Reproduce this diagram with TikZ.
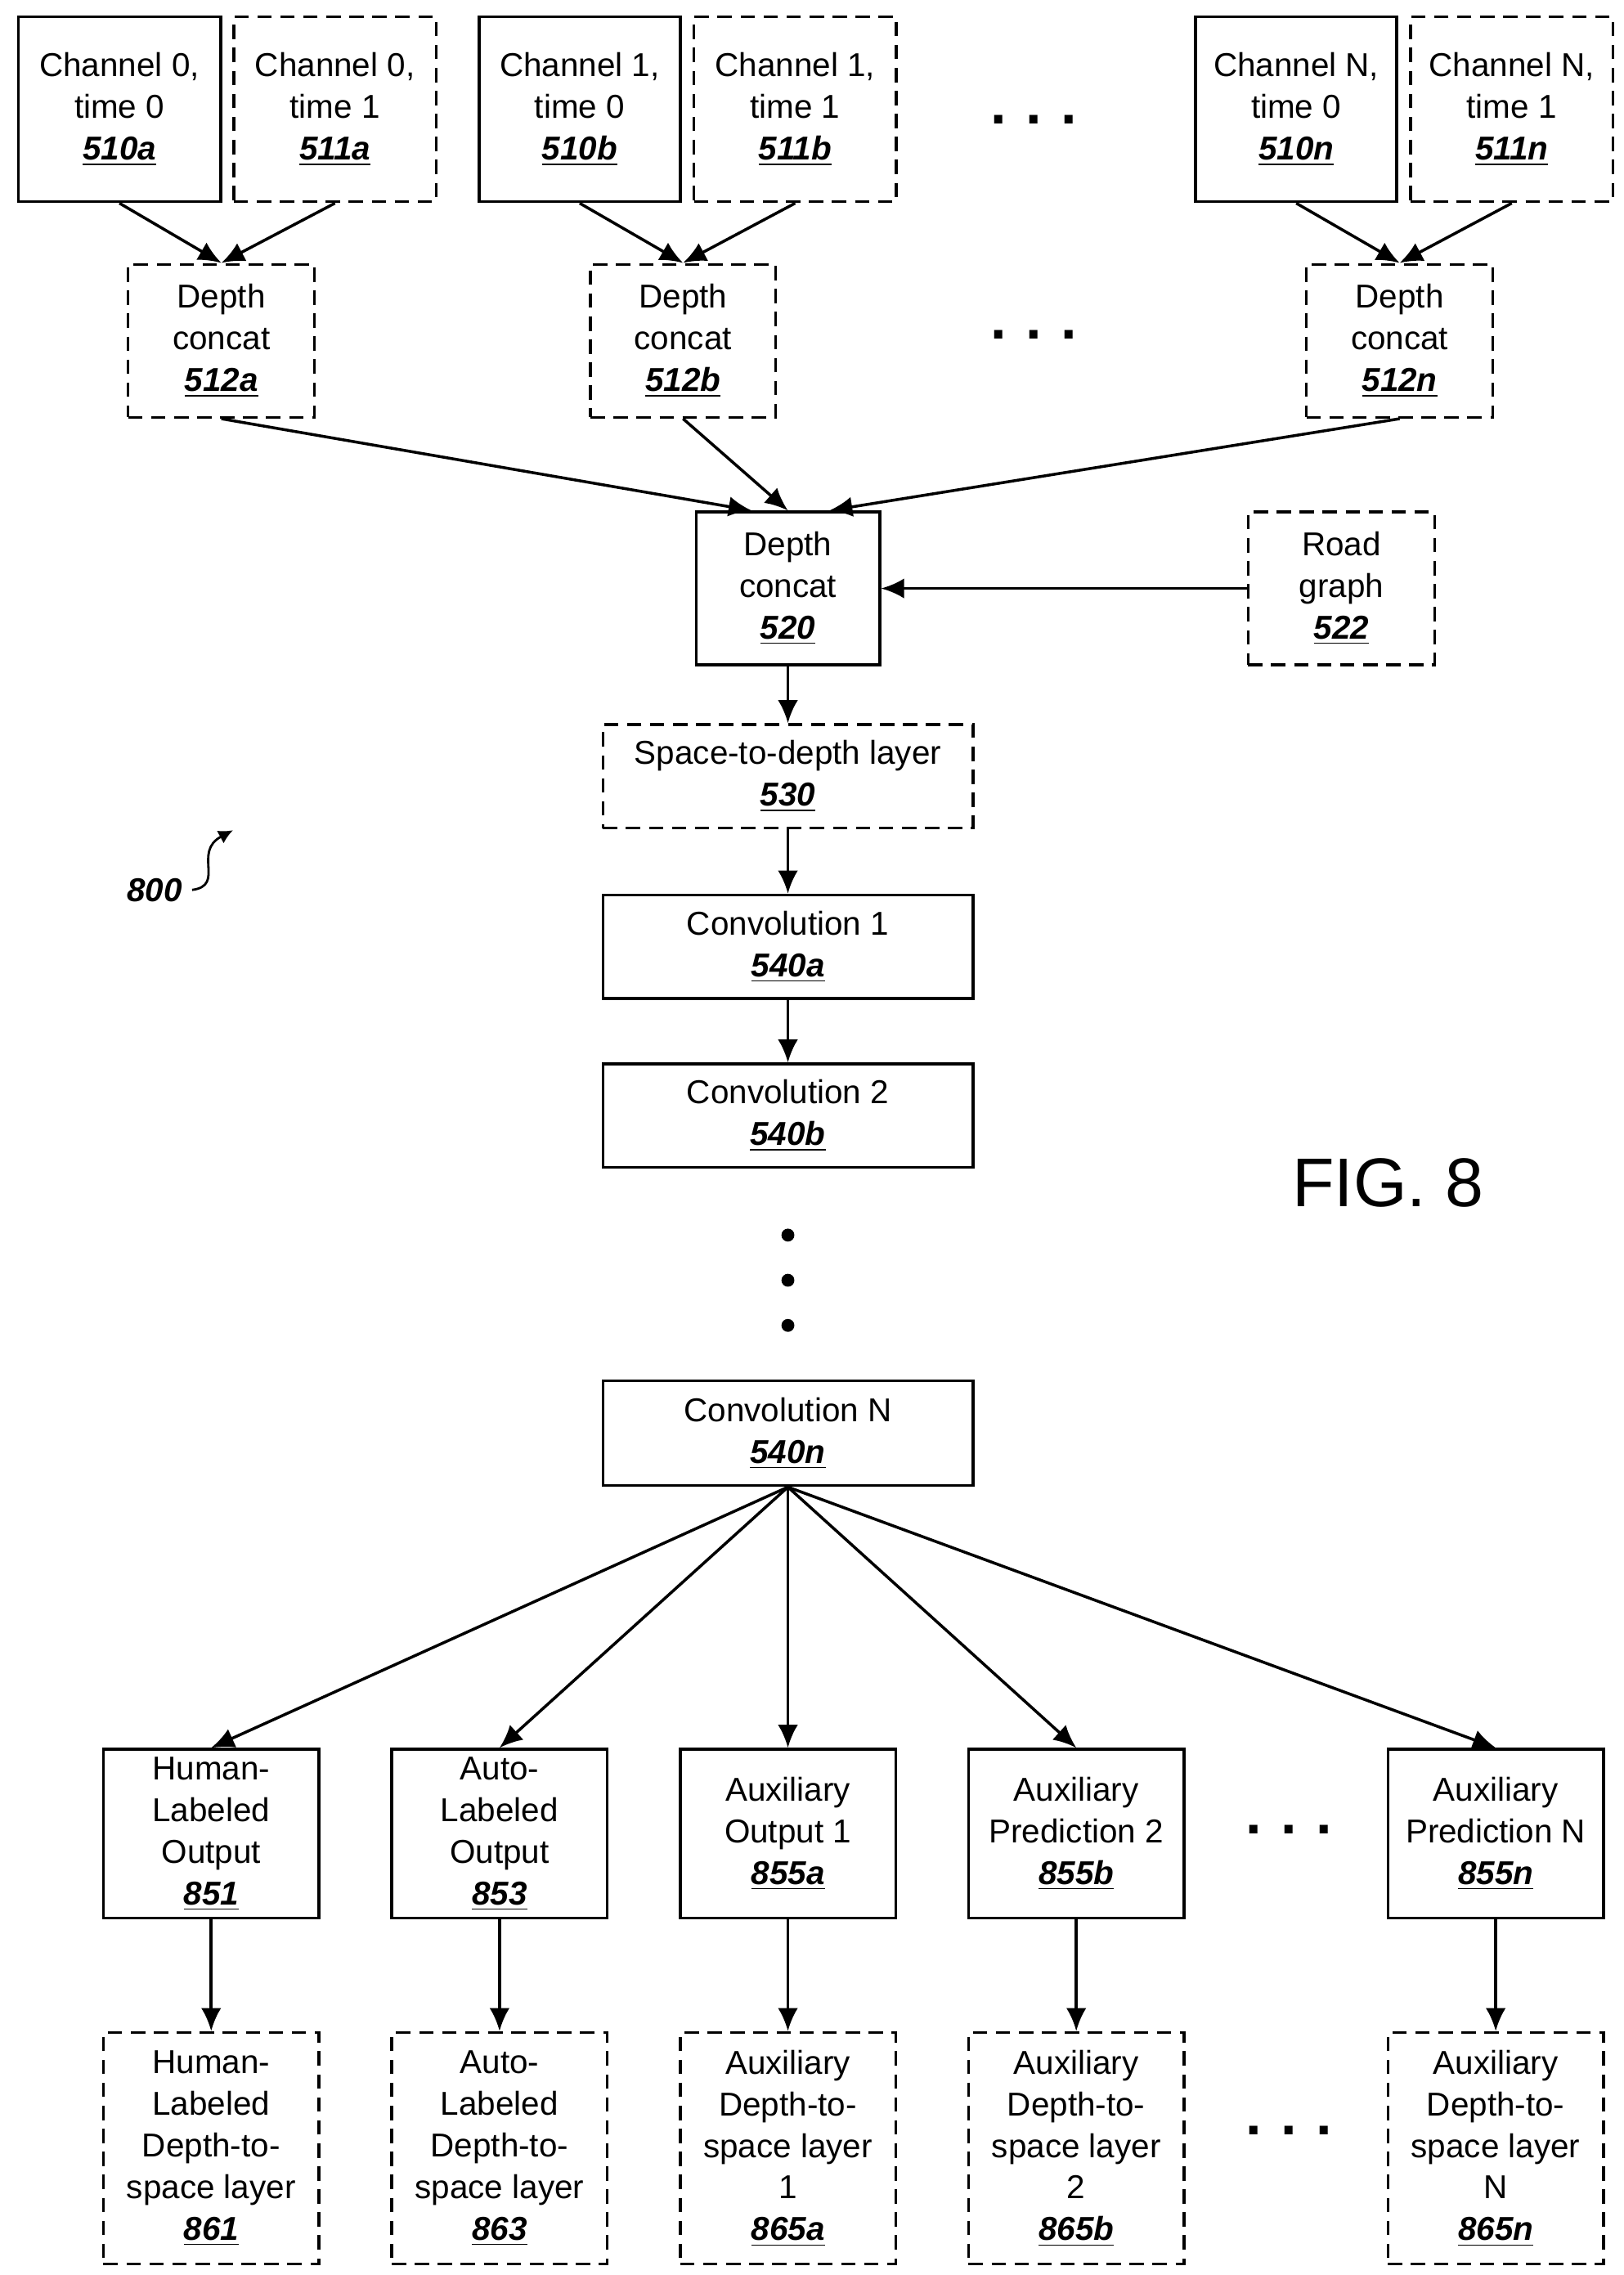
\documentclass[tikz,border=0pt]{standalone}
\usepackage{fontspec}
\setmainfont{Liberation Sans}
\usetikzlibrary{arrows.meta,positioning}
\newcommand{\refnum}[1]{\underline{\textbf{\textit{#1}}}}
\tikzset{
  blk/.style 2 args={draw, line width=1pt, align=center, inner sep=1pt,
    minimum width=#1*0.01781cm, minimum height=#2*0.01781cm,
    font=\fontsize{11.5}{14.5}\selectfont},
  solid blk/.style 2 args={blk={#1}{#2}},
  dash blk/.style 2 args={blk={#1}{#2}, dash pattern=on 5pt off 3pt},
  arr/.style={line width=1pt, -{Latex[length=8pt,width=7pt]}},
  dots/.style={font=\fontsize{20}{20}\selectfont\bfseries, inner sep=0pt},
  vdot/.style={fill, circle, inner sep=0pt, minimum size=4.5pt}
}
\begin{document}
\begin{tikzpicture}[x=0.01781cm, y=-0.01781cm]
  \useasboundingbox (0,0) rectangle (1115,1562);
  % input channels
  \node [solid blk={139}{127}] (c0t0) at (82,75) {Channel 0,\\time 0\\\refnum{510a}};
  \node [dash blk={139}{127}] (c0t1) at (230,75) {Channel 0,\\time 1\\\refnum{511a}};
  \node [solid blk={138}{127}] (c1t0) at (398,75) {Channel 1,\\time 0\\\refnum{510b}};
  \node [dash blk={139}{127}] (c1t1) at (546,75) {Channel 1,\\time 1\\\refnum{511b}};
  \node [solid blk={138}{127}] (cNt0) at (890,75) {Channel N,\\time 0\\\refnum{510n}};
  \node [dash blk={139}{127}] (cNt1) at (1038,75) {Channel N,\\time 1\\\refnum{511n}};
  \node [dots] (dtop) at (710,82) {.\,\,.\,\,.};
  % per-channel concat
  \node [dash blk={128}{105}] (cat0) at (152,234) {Depth\\concat\\\refnum{512a}};
  \node [dash blk={127}{105}] (cat1) at (469,234) {Depth\\concat\\\refnum{512b}};
  \node [dash blk={128}{105}] (catN) at (961,234) {Depth\\concat\\\refnum{512n}};
  \node [dots] (dcat) at (710,230) {.\,\,.\,\,.};
  % main trunk
  \node [solid blk={126}{105}] (cat) at (541,404) {Depth\\concat\\\refnum{520}};
  \node [dash blk={128}{105}] (road) at (921,404) {Road\\graph\\\refnum{522}};
  \node [dash blk={254}{71}] (s2d) at (541,533) {Space-to-depth layer\\\refnum{530}};
  \node [solid blk={254}{71}] (conv1) at (541,650) {Convolution 1\\\refnum{540a}};
  \node [solid blk={254}{71}] (conv2) at (541,766) {Convolution 2\\\refnum{540b}};
  \foreach \yy/\nm in {848/dv1, 879/dv2, 910/dv3}
    \node [vdot] (\nm) at (541,\yy) {};
  \node [solid blk={254}{72}] (convN) at (541,984) {Convolution N\\\refnum{540n}};
  % outputs
  \node [solid blk={148}{116}] (hum) at (145,1259) {Human-\\Labeled\\Output\\\refnum{851}};
  \node [solid blk={148}{116}] (auto) at (343,1259) {Auto-\\Labeled\\Output\\\refnum{853}};
  \node [solid blk={148}{116}] (aux1) at (541,1259) {Auxiliary\\Output 1\\\refnum{855a}};
  \node [solid blk={148}{116}] (aux2) at (739,1259) {Auxiliary\\Prediction 2\\\refnum{855b}};
  \node [solid blk={148}{116}] (auxN) at (1027,1259) {Auxiliary\\Prediction N\\\refnum{855n}};
  \node [dots] (dout) at (885,1256) {.\,\,.\,\,.};
  % depth-to-space layers
  \node [dash blk={148}{159}] (humd) at (145,1475) {Human-\\Labeled\\Depth-to-\\space layer\\\refnum{861}};
  \node [dash blk={148}{159}] (autod) at (343,1475) {Auto-\\Labeled\\Depth-to-\\space layer\\\refnum{863}};
  \node [dash blk={148}{159}] (aux1d) at (541,1475) {Auxiliary\\Depth-to-\\space layer\\1\\\refnum{865a}};
  \node [dash blk={148}{159}] (aux2d) at (739,1475) {Auxiliary\\Depth-to-\\space layer\\2\\\refnum{865b}};
  \node [dash blk={148}{159}] (auxNd) at (1027,1475) {Auxiliary\\Depth-to-\\space layer\\N\\\refnum{865n}};
  \node [dots] (dlay) at (885,1463) {.\,\,.\,\,.};
  % labels
  \node [font=\fontsize{24}{24}\selectfont] (fig) at (953,812) {FIG. 8};
  \node [font=\fontsize{11.5}{14}\selectfont\bfseries\itshape] (ref) at (106,611) {800};
  \coordinate (refend) at (160,570);
  \draw [line width=0.8pt, -{Latex[length=5pt,width=5pt]}]
    (ref.east) .. controls (155,608) and (132,585) .. (refend);
  % connectors
  \draw [arr] (c0t0.south) -- (cat0.north);
  \draw [arr] (c0t1.south) -- (cat0.north);
  \draw [arr] (c1t0.south) -- (cat1.north);
  \draw [arr] (c1t1.south) -- (cat1.north);
  \draw [arr] (cNt0.south) -- (catN.north);
  \draw [arr] (cNt1.south) -- (catN.north);
  \draw [arr] (cat0.south) -- (cat.115);
  \draw [arr] (cat1.south) -- (cat.north);
  \draw [arr] (catN.south) -- (cat.62);
  \draw [arr] (road.west) -- (cat.east);
  \draw [arr] (cat.south) -- (s2d.north);
  \draw [arr] (s2d.south) -- (conv1.north);
  \draw [arr] (conv1.south) -- (conv2.north);
  \draw [arr] (convN.south) -- (hum.north);
  \draw [arr] (convN.south) -- (auto.north);
  \draw [arr] (convN.south) -- (aux1.north);
  \draw [arr] (convN.south) -- (aux2.north);
  \draw [arr] (convN.south) -- (auxN.north);
  \draw [arr] (hum.south) -- (humd.north);
  \draw [arr] (auto.south) -- (autod.north);
  \draw [arr] (aux1.south) -- (aux1d.north);
  \draw [arr] (aux2.south) -- (aux2d.north);
  \draw [arr] (auxN.south) -- (auxNd.north);
\end{tikzpicture}
\end{document}
